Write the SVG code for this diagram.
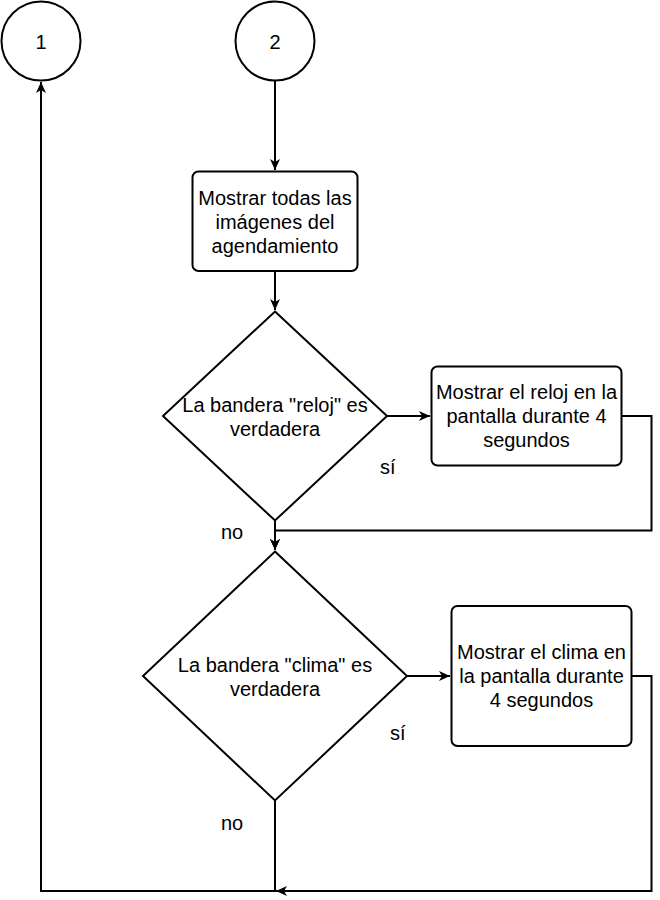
<svg xmlns="http://www.w3.org/2000/svg" width="660" height="900" viewBox="0 0 660 900">
<style>
.s{fill:#fff;stroke:#000;stroke-width:2}
.e{fill:none;stroke:#000;stroke-width:2}
text{font-family:"Liberation Sans",Arial,sans-serif;font-size:20px;fill:#000;text-anchor:middle}
.l{text-anchor:start}
</style>
<defs>
<marker id="a" markerWidth="13" markerHeight="11" refX="11" refY="5" orient="auto" markerUnits="userSpaceOnUse">
<path d="M0,0 L11,5 L0,10 L3,5 z" fill="#000"/>
</marker>
</defs>
<rect width="660" height="900" fill="#fff"/>
<g id="connectors">
<path class="e" d="M275,81 L275,170" marker-end="url(#a)"/>
<path class="e" d="M275,271 L275,310" marker-end="url(#a)"/>
<path class="e" d="M387,416 L430,416" marker-end="url(#a)"/>
<path class="e" d="M275,520.5 L275,550" marker-end="url(#a)"/>
<path class="e" d="M621.5,416 L651.5,416 L651.5,530.5 L275,530.5 L275,550" marker-end="url(#a)"/>
<path class="e" d="M407,676 L450,676" marker-end="url(#a)"/>
<path class="e" d="M275,800.5 L275,891 L41,891 L41,82" marker-end="url(#a)"/>
<path class="e" d="M631.5,676 L651.5,676 L651.5,891 L276,891" marker-end="url(#a)"/>
<text class="l" x="380" y="474">sí</text>
<text class="l" x="221" y="539">no</text>
<text class="l" x="390" y="740">sí</text>
<text class="l" x="221" y="830">no</text>
</g>
<g id="c1">
<circle class="s" cx="41" cy="41" r="39.5"/>
<text x="41" y="49">1</text>
</g>
<g id="c2">
<circle class="s" cx="275" cy="41" r="39.5"/>
<text x="275" y="49">2</text>
</g>
<g id="b1">
<rect class="s" x="192.5" y="171.5" width="165" height="99.5" rx="6"/>
<text x="275" y="205">Mostrar todas las</text>
<text x="275" y="229">imágenes del</text>
<text x="275" y="253">agendamiento</text>
</g>
<g id="d1">
<polygon class="s" points="275,311.5 387,416 275,520.5 163,416"/>
<text x="275" y="412">La bandera "reloj" es</text>
<text x="275" y="436">verdadera</text>
</g>
<g id="b2">
<rect class="s" x="431.5" y="366.5" width="190" height="99" rx="6"/>
<text x="526.5" y="399">Mostrar el reloj en la</text>
<text x="526.5" y="423">pantalla durante 4</text>
<text x="526.5" y="447">segundos</text>
</g>
<g id="d2">
<polygon class="s" points="275,551.5 407,676 275,800.5 143,676"/>
<text x="275" y="671.5">La bandera "clima" es</text>
<text x="275" y="695.5">verdadera</text>
</g>
<g id="b3">
<rect class="s" x="451.5" y="606" width="180" height="140" rx="6"/>
<text x="541.5" y="659">Mostrar el clima en</text>
<text x="541.5" y="683">la pantalla durante</text>
<text x="541.5" y="707">4 segundos</text>
</g>
</svg>
